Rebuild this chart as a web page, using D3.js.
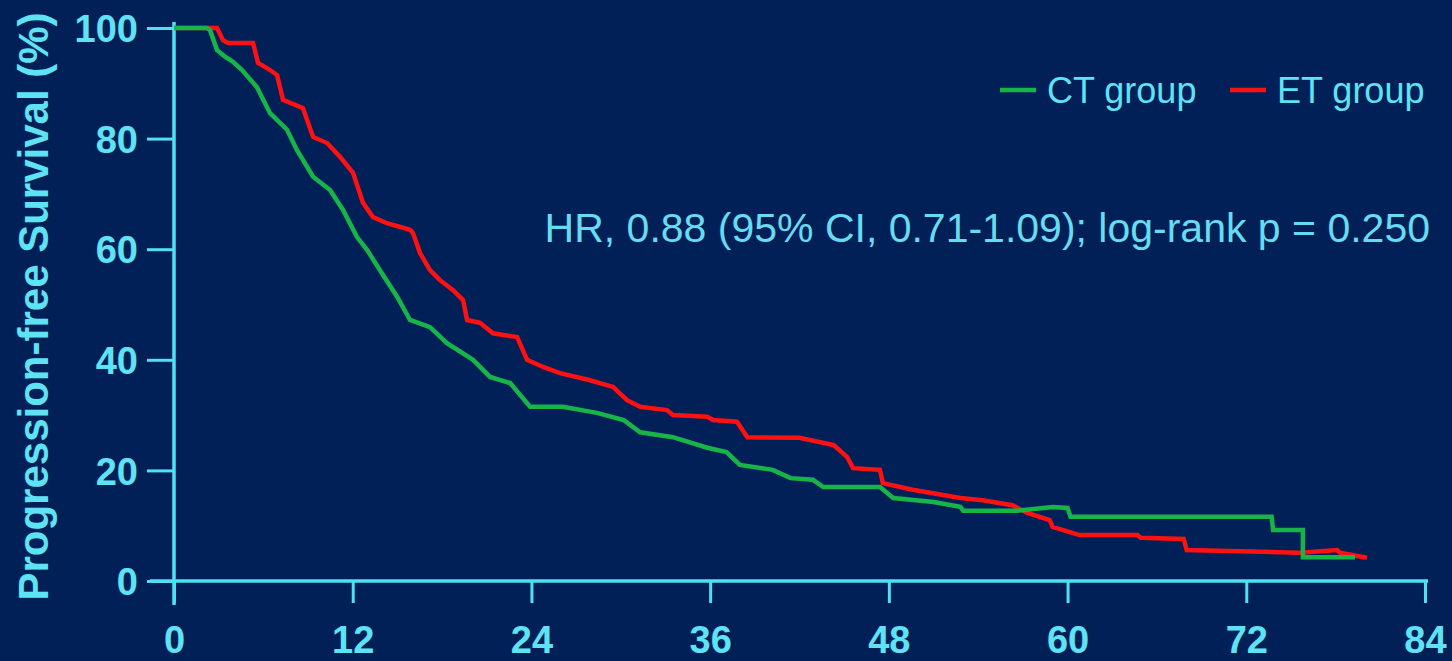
<!DOCTYPE html>
<html>
<head>
<meta charset="utf-8">
<script src="https://cdn.jsdelivr.net/npm/d3@7"></script>
<style>
  html, body { margin: 0; padding: 0; background: #022058; }
  svg { display: block; }
</style>
</head>
<body>
<svg id="chart" width="1452" height="661"></svg>
<script>
// Kaplan–Meier progression-free survival, months vs. percent surviving
const ctTime = [0, 2.2, 2.42, 2.89, 3.43, 3.96, 4.57, 5.57, 6.45, 7.59, 8.26, 9.34, 10.48, 11.35, 12.29, 12.96,
  13.83, 14.98, 15.85, 17.19, 18.33, 20.08, 21.22, 22.57, 23.91, 26.1, 28.4, 30.2, 31.3, 33.5, 35.8, 37.1,
  38.0, 40.2, 41.4, 42.9, 43.6, 47.4, 48.3, 51.0, 52.8, 53.0, 56.6, 59.0, 60.0, 60.2, 73.7, 73.8, 75.8, 75.8, 79.3];
const ctSurv = [100, 100, 99.6, 96.0, 94.8, 93.9, 92.4, 89.3, 84.6, 81.6, 77.9, 73.1, 70.7, 67.1, 62.2, 59.9,
  56.2, 51.4, 47.2, 45.9, 43.0, 40.0, 36.9, 35.8, 31.5, 31.5, 30.4, 29.1, 26.9, 26.0, 24.1, 23.3,
  21.0, 20.1, 18.6, 18.3, 17.0, 17.0, 15.0, 14.3, 13.4, 12.7, 12.7, 13.4, 13.2, 11.6, 11.6, 9.2, 9.2, 4.3, 4.3];

const etTime = [0, 2.89, 3.29, 3.63, 5.31, 5.64, 6.45, 6.92, 7.32, 8.66, 9.34, 10.28, 11.15, 12.02, 12.69, 13.36,
  14.3, 15.85, 16.05, 16.52, 17.19, 17.86, 18.74, 19.41, 19.68, 20.55, 21.42, 23.04, 23.71, 24.78, 25.92,
  27.94, 29.48, 30.42, 31.3, 33.1, 33.5, 35.8, 36.2, 37.8, 38.5, 42.0, 44.3, 45.2, 45.6, 47.4, 47.6, 49.6,
  52.8, 54.3, 56.3, 57.3, 58.8, 59.0, 60.8, 64.7, 64.9, 67.8, 68.0, 75.6, 78.1, 78.3, 80.1];
const etSurv = [100, 100, 97.8, 97.3, 97.3, 93.7, 92.4, 91.5, 87.0, 85.5, 80.3, 79.2, 76.7, 73.8, 68.4, 65.8,
  64.7, 63.5, 62.9, 59.3, 56.2, 54.4, 52.6, 50.8, 47.2, 46.7, 44.8, 44.1, 40.0, 38.7, 37.6,
  36.3, 35.1, 32.7, 31.5, 30.9, 30.0, 29.7, 29.1, 28.8, 26.0, 25.9, 24.6, 22.4, 20.4, 20.1, 17.7, 16.5,
  15.0, 14.6, 13.7, 12.3, 11.0, 9.8, 8.3, 8.3, 7.8, 7.6, 5.6, 5.1, 5.6, 5.1, 4.2];

const xTicks = [0, 12, 24, 36, 48, 60, 72, 84];
const yTicks = [0, 20, 40, 60, 80, 100];
const seriesNames = ["CT group", "ET group"];
const seriesColors = ["#17b548", "#ff1111"];
const yTitle = "Progression-free Survival (%)";
const statText = "HR, 0.88 (95% CI, 0.71-1.09); log-rank p = 0.250";

const axisColor = "#4fe0f3";
const labelColor = "#5ee3f4";
const fontFamily = "'Liberation Sans', Arial, sans-serif";

const svg = d3.select("#chart");
svg.append("rect").attr("width", 1452).attr("height", 661).attr("fill", "#022058");

const x = d3.scaleLinear().domain([0, 84]).range([174, 1425]);
const y = d3.scaleLinear().domain([0, 100]).range([581, 28]);

// Axes
const xAxis = svg.append("g")
  .attr("transform", `translate(0,${y(0)})`)
  .call(d3.axisBottom(x).tickValues(xTicks).tickSize(22).tickSizeOuter(0).tickPadding(23));
const yAxis = svg.append("g")
  .attr("transform", `translate(${x(0)},0)`)
  .call(d3.axisLeft(y).tickValues(yTicks).tickSize(27).tickSizeOuter(0).tickPadding(9));

[xAxis, yAxis].forEach(g => {
  g.select(".domain").remove();
  g.selectAll(".tick line").attr("stroke", axisColor).attr("stroke-width", 3);
  g.selectAll(".tick text")
    .attr("fill", labelColor)
    .attr("font-family", fontFamily)
    .attr("font-weight", "bold")
    .attr("font-size", 38);
});
xAxis.selectAll(".tick text").attr("dy", "0.71em");
yAxis.selectAll(".tick text").attr("dy", "0.36em");

// Axis lines extend slightly past the origin
svg.append("line")
  .attr("x1", x(0) - 24).attr("x2", x(84) + 3)
  .attr("y1", y(0)).attr("y2", y(0))
  .attr("stroke", axisColor).attr("stroke-width", 3.5);
svg.append("line")
  .attr("x1", x(0)).attr("x2", x(0))
  .attr("y1", y(100) - 6).attr("y2", y(0) + 24)
  .attr("stroke", axisColor).attr("stroke-width", 3.5);

// Y axis title
svg.append("text")
  .attr("transform", `translate(48,${(y(0) + y(100)) / 2 + 2}) rotate(-90)`)
  .attr("text-anchor", "middle")
  .attr("fill", labelColor)
  .attr("font-family", fontFamily)
  .attr("font-weight", "bold")
  .attr("font-size", 42)
  .text(yTitle);

// Survival curves
const line = d3.line().x(d => x(d[0])).y(d => y(d[1]));
const etData = etTime.map((t, i) => [t, etSurv[i]]);
const ctData = ctTime.map((t, i) => [t, ctSurv[i]]);

svg.append("path").datum(etData)
  .attr("d", line).attr("fill", "none")
  .attr("stroke", seriesColors[1]).attr("stroke-width", 4.5)
  .attr("stroke-linejoin", "miter");
svg.append("path").datum(ctData)
  .attr("d", line).attr("fill", "none")
  .attr("stroke", seriesColors[0]).attr("stroke-width", 4.5)
  .attr("stroke-linejoin", "miter");

// Legend
const legend = svg.append("g").attr("font-family", fontFamily);
const legendX = [1000, 1230];
seriesNames.forEach((name, i) => {
  legend.append("line")
    .attr("x1", legendX[i]).attr("x2", legendX[i] + 36)
    .attr("y1", 90).attr("y2", 90)
    .attr("stroke", seriesColors[i]).attr("stroke-width", 4.5);
  legend.append("text")
    .attr("x", legendX[i] + 47).attr("y", 103)
    .attr("fill", labelColor)
    .attr("font-size", 36)
    .text(name);
});

// Hazard ratio annotation
svg.append("text")
  .attr("x", 1430).attr("y", 242)
  .attr("text-anchor", "end")
  .attr("fill", "#66dcf0")
  .attr("font-family", fontFamily)
  .attr("font-size", 41)
  .text(statText);
</script>
</body>
</html>
